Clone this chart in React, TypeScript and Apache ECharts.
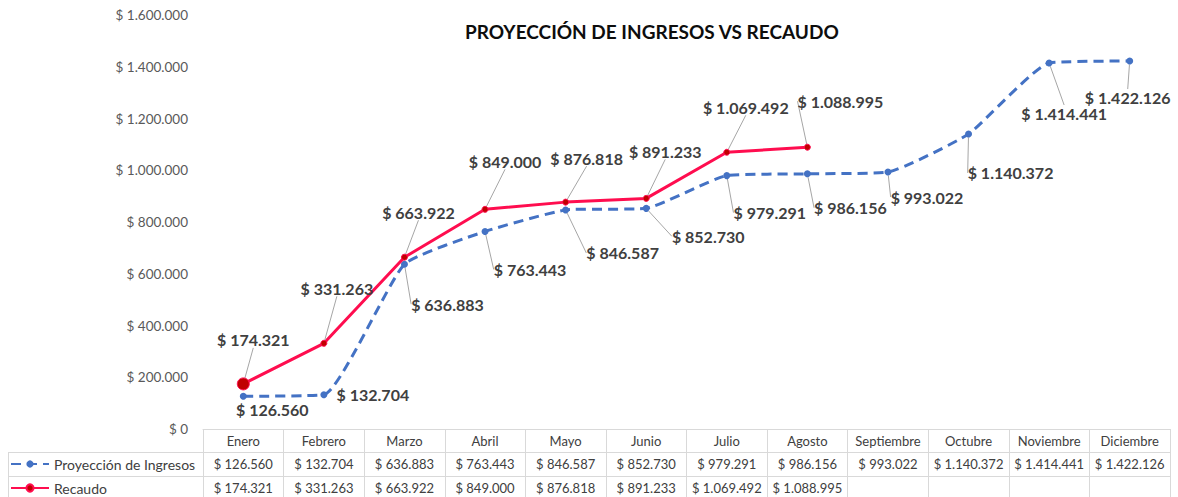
import React, { useEffect, useRef } from "react";
import * as echarts from "echarts";

const months = ["Enero", "Febrero", "Marzo", "Abril", "Mayo", "Junio", "Julio", "Agosto", "Septiembre", "Octubre", "Noviembre", "Diciembre"];
const proyeccion = [126560, 132704, 636883, 763443, 846587, 852730, 979291, 986156, 993022, 1140372, 1414441, 1422126];
const recaudo: (number | null)[] = [174321, 331263, 663922, 849000, 876818, 891233, 1069492, 1088995, null, null, null, null];

// label offsets (label centre relative to the point), layout only
const proyLabelOffsets = [[29, 13], [49, 0], [43, 40], [45, 38], [57, 43], [62, 28], [43, 37], [43, 34], [39, 25], [42, 39], [15, 50], [-2, 36]];
const recLabelOffsets = [[10, -44], [13, -55], [14, -45], [20, -48], [21, -44], [19, -47], [19, -45], [33, -46]];
const proyNoLine = [0, 1];

const FONT = "Lato";

function fmt(v: number | null | undefined): string {
  if (v == null) return "";
  return "$ " + String(v).replace(/\B(?=(\d{3})+(?!\d))/g, ".");
}

export default function App() {
  const ref = useRef<HTMLDivElement>(null);
  useEffect(() => {
    if (!ref.current) return;
    const chart = echarts.init(ref.current, undefined, { renderer: "svg" });
    const tableAxis = (offset: number, tickLen: number, formatter: any) => ({
      type: "category",
      data: months,
      position: "bottom",
      offset,
      boundaryGap: true,
      axisLine: { show: true, lineStyle: { color: "#d9d9d9", width: 1 } },
      axisTick: { show: true, length: tickLen, interval: 0, lineStyle: { color: "#d9d9d9", width: 1 } },
      axisLabel: { interval: 0, fontSize: 13, color: "#404040", fontFamily: FONT, margin: 5, formatter },
      splitLine: { show: false },
    });
    const labelStyle = {
      show: true,
      position: "inside",
      fontFamily: FONT,
      fontSize: 16,
      fontWeight: "bold",
      color: "#404040",
      formatter: (p: any) => fmt(p.value),
    };
    const legendBase = {
      orient: "horizontal",
      left: 10,
      padding: 0,
      itemWidth: 38,
      itemHeight: 9,
      itemGap: 0,
      textStyle: { fontSize: 14, color: "#404040", fontFamily: FONT },
    };
    chart.setOption({
      animation: false,
      textStyle: { fontFamily: FONT },
      title: {
        text: "PROYECCIÓN DE INGRESOS VS RECAUDO",
        left: 460,
        top: 17,
        textStyle: { fontSize: 19, fontWeight: "bold", color: "#0d0d0d", fontFamily: FONT },
      },
      legend: [
        { ...legendBase, top: 457, data: ["Proyección de Ingresos"] },
        { ...legendBase, top: 481, data: ["Recaudo"] },
      ],
      grid: { left: 203, right: 8, top: 15, bottom: 68, containLabel: false },
      xAxis: [
        tableAxis(0, 23, (v: string) => v),
        tableAxis(23, 24, (_v: string, i: number) => fmt(proyeccion[i])),
        tableAxis(47, 24, (_v: string, i: number) => fmt(recaudo[i])),
      ],
      yAxis: {
        type: "value",
        min: 0,
        max: 1600000,
        interval: 200000,
        axisLine: { show: false },
        axisTick: { show: false },
        splitLine: { show: false },
        axisLabel: { fontSize: 13.5, color: "#595959", fontFamily: FONT, margin: 15, formatter: (v: number) => fmt(v) },
      },
      graphic: [
        { type: "line", shape: { x1: 8, y1: 452.5, x2: 203, y2: 452.5 }, style: { stroke: "#d9d9d9", lineWidth: 1 } },
        { type: "line", shape: { x1: 8, y1: 476.5, x2: 203, y2: 476.5 }, style: { stroke: "#d9d9d9", lineWidth: 1 } },
        { type: "line", shape: { x1: 8.5, y1: 452, x2: 8.5, y2: 497 }, style: { stroke: "#d9d9d9", lineWidth: 1 } },
      ],
      series: [
        {
          name: "Proyección de Ingresos",
          type: "line",
          xAxisIndex: 0,
          smooth: 0.15,
          data: proyeccion.map((v, i) => ({
            value: v,
            labelLine: { show: !proyNoLine.includes(i) },
          })),
          symbol: "circle",
          symbolSize: 7,
          itemStyle: { color: "#4472C4" },
          lineStyle: { color: "#4472C4", width: 3, type: [10, 6] },
          label: labelStyle,
          labelLine: { show: true, lineStyle: { color: "#a6a6a6", width: 1 } },
          labelLayout: (p: any) => {
            const o = proyLabelOffsets[p.dataIndex] || [0, 0];
            return { dx: o[0], dy: o[1] };
          },
          z: 2,
        },
        {
          name: "Recaudo",
          type: "line",
          xAxisIndex: 0,
          data: recaudo.map((v, i) => (i === 0 ? { value: v, symbolSize: 12 } : { value: v })),
          symbol: "circle",
          symbolSize: 6,
          itemStyle: { color: "#C00000", borderColor: "#FF0D4F", borderWidth: 1 },
          lineStyle: { color: "#FF0D4F", width: 3 },
          label: labelStyle,
          labelLine: { show: true, lineStyle: { color: "#a6a6a6", width: 1 } },
          labelLayout: (p: any) => {
            const o = recLabelOffsets[p.dataIndex] || [0, 0];
            return { dx: o[0], dy: o[1] };
          },
          z: 3,
        },
      ],
    });
    return () => chart.dispose();
  }, []);
  return <div ref={ref} style={{ position: "fixed", left: 0, top: 0, width: 1178, height: 497, background: "#fff" }} />;
}
